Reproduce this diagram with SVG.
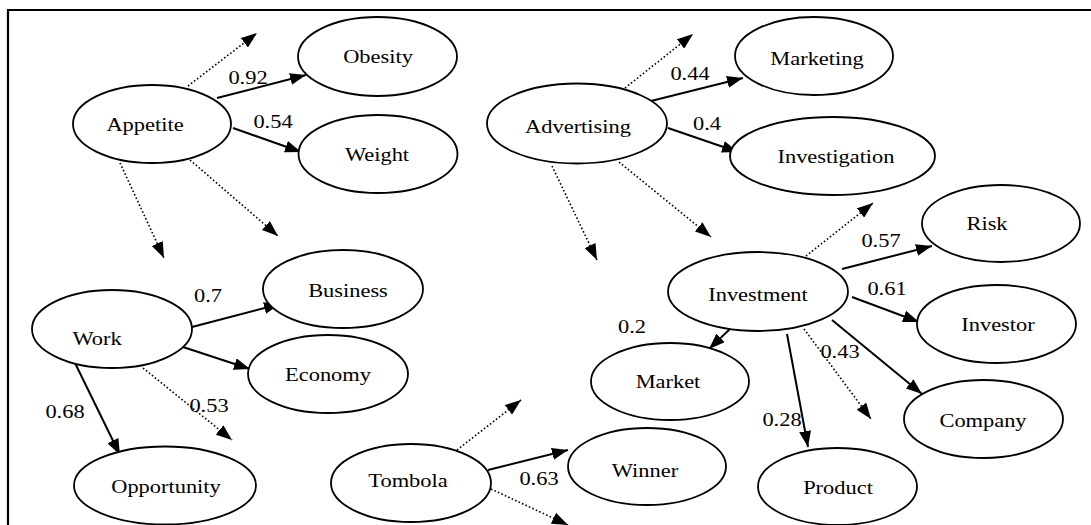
<svg xmlns="http://www.w3.org/2000/svg" width="1091" height="525" viewBox="0 0 1091 525" font-family="'Liberation Serif', 'Times New Roman', Times, 'DejaVu Serif', serif">
<style>
.n ellipse{fill:#fff;stroke:#000;stroke-width:1.8}
text{font-family:'Liberation Serif','Times New Roman',Times,'DejaVu Serif',serif;font-size:19.5px;fill:#000;text-anchor:middle}
.c line{stroke:#000;fill:none}
.s{stroke-width:2;marker-end:url(#ah)}
.d{stroke-width:1.6;stroke-dasharray:1.6 2.2;marker-end:url(#ah)}
.frame{fill:none;stroke:#000;stroke-width:2.2}
</style>
<defs>
<marker id="ah" markerUnits="userSpaceOnUse" markerWidth="16" markerHeight="12" refX="16" refY="6" orient="auto">
<path d="M0,0 L16,6 L0,12 z" fill="#000"/>
</marker>
</defs>
<rect width="1091" height="525" fill="#fff"/>
<path class="frame" d="M8,525 V10 H1091"/>
<g class="c" id="connectors">
<line class="d" x1="188" y1="86" x2="257" y2="33"/>
<line class="d" x1="120" y1="163" x2="164" y2="258"/>
<line class="d" x1="190" y1="160" x2="278" y2="236"/>
<line class="d" x1="625" y1="88" x2="693" y2="34"/>
<line class="d" x1="552" y1="166" x2="597" y2="260"/>
<line class="d" x1="619" y1="162" x2="711" y2="237"/>
<line class="d" x1="143" y1="368" x2="232" y2="440"/>
<line class="d" x1="457" y1="450" x2="521" y2="400"/>
<line class="d" x1="491" y1="489" x2="568" y2="525"/>
<line class="d" x1="806" y1="256" x2="873" y2="203"/>
<line class="d" x1="804" y1="329" x2="871" y2="419"/>
<line class="s" x1="217" y1="98" x2="306" y2="75"/>
<line class="s" x1="233" y1="128" x2="301" y2="152"/>
<line class="s" x1="651" y1="101" x2="743" y2="78"/>
<line class="s" x1="668" y1="128" x2="738" y2="152"/>
<line class="s" x1="192" y1="327" x2="280" y2="304"/>
<line class="s" x1="183" y1="347" x2="250" y2="369"/>
<line class="s" x1="75" y1="363" x2="120" y2="455"/>
<line class="s" x1="488" y1="470" x2="568" y2="450"/>
<line class="s" x1="842" y1="269" x2="932" y2="246"/>
<line class="s" x1="852" y1="297" x2="919" y2="322"/>
<line class="s" x1="832" y1="320" x2="922" y2="394"/>
<line class="s" x1="731" y1="328" x2="709" y2="349"/>
<line class="s" x1="787" y1="334" x2="808" y2="447"/>
<g id="labels">
<text transform="translate(248,84) scale(1.15,1)">0.92</text>
<text transform="translate(273,128) scale(1.15,1)">0.54</text>
<text transform="translate(690,80) scale(1.15,1)">0.44</text>
<text transform="translate(707,130) scale(1.15,1)">0.4</text>
<text transform="translate(208,302) scale(1.15,1)">0.7</text>
<text transform="translate(65,418) scale(1.15,1)">0.68</text>
<text transform="translate(209,412) scale(1.15,1)">0.53</text>
<text transform="translate(539,485) scale(1.15,1)">0.63</text>
<text transform="translate(881,247) scale(1.15,1)">0.57</text>
<text transform="translate(887,295) scale(1.15,1)">0.61</text>
<text transform="translate(632,333) scale(1.15,1)">0.2</text>
<text transform="translate(782,426) scale(1.15,1)">0.28</text>
<text transform="translate(840,358) scale(1.15,1)">0.43</text>
</g>
</g>
<g class="n" id="appetite"><ellipse cx="152" cy="124" rx="79" ry="39"/><text transform="translate(145,131) scale(1.15,1)">Appetite</text></g>
<g class="n" id="obesity"><ellipse cx="377.5" cy="56.5" rx="79.5" ry="39.5"/><text transform="translate(378,63) scale(1.15,1)">Obesity</text></g>
<g class="n" id="weight"><ellipse cx="378" cy="154" rx="79.5" ry="39"/><text transform="translate(377,161) scale(1.15,1)">Weight</text></g>
<g class="n" id="advertising"><ellipse cx="577" cy="123.5" rx="90" ry="40"/><text transform="translate(578,133) scale(1.15,1)">Advertising</text></g>
<g class="n" id="marketing"><ellipse cx="814" cy="56" rx="79" ry="39"/><text transform="translate(817,65) scale(1.15,1)">Marketing</text></g>
<g class="n" id="investigation"><ellipse cx="832.5" cy="156" rx="102.5" ry="39"/><text transform="translate(836,163) scale(1.15,1)">Investigation</text></g>
<g class="n" id="investment"><ellipse cx="758" cy="291.5" rx="90" ry="39.5"/><text transform="translate(758,301) scale(1.15,1)">Investment</text></g>
<g class="n" id="risk"><ellipse cx="1001" cy="223.5" rx="79" ry="38.5"/><text transform="translate(987,230) scale(1.15,1)">Risk</text></g>
<g class="n" id="investor"><ellipse cx="996.5" cy="324" rx="79.5" ry="39"/><text transform="translate(998,331) scale(1.15,1)">Investor</text></g>
<g class="n" id="company"><ellipse cx="983.5" cy="419" rx="79.5" ry="39"/><text transform="translate(983,427) scale(1.15,1)">Company</text></g>
<g class="n" id="market"><ellipse cx="670" cy="381.5" rx="79" ry="38.5"/><text transform="translate(668,388) scale(1.15,1)">Market</text></g>
<g class="n" id="product"><ellipse cx="837.5" cy="486.5" rx="79.5" ry="38.5"/><text transform="translate(838,494) scale(1.15,1)">Product</text></g>
<g class="n" id="winner"><ellipse cx="647" cy="466.5" rx="79" ry="38.5"/><text transform="translate(645,477) scale(1.15,1)">Winner</text></g>
<g class="n" id="tombola"><ellipse cx="411" cy="483" rx="80" ry="39"/><text transform="translate(408,487) scale(1.15,1)">Tombola</text></g>
<g class="n" id="work"><ellipse cx="112" cy="329" rx="80" ry="39"/><text transform="translate(97,345) scale(1.15,1)">Work</text></g>
<g class="n" id="business"><ellipse cx="343" cy="289" rx="80" ry="39"/><text transform="translate(348,297) scale(1.15,1)">Business</text></g>
<g class="n" id="economy"><ellipse cx="328" cy="374" rx="80" ry="39"/><text transform="translate(328,381) scale(1.15,1)">Economy</text></g>
<g class="n" id="opportunity"><ellipse cx="165" cy="485.5" rx="91" ry="39"/><text transform="translate(166,493) scale(1.15,1)">Opportunity</text></g>
</svg>
